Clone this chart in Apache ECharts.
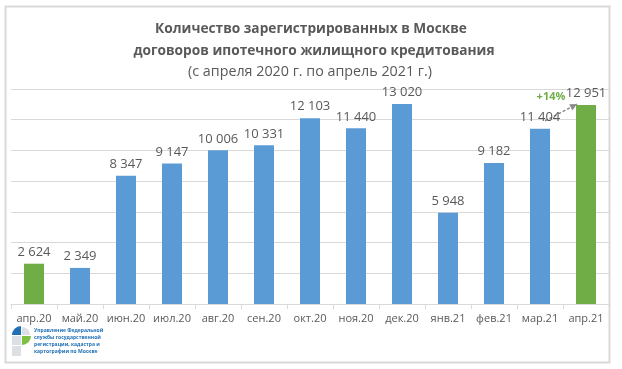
<!DOCTYPE html>
<html><head><meta charset="utf-8">
<script src="https://cdn.jsdelivr.net/npm/echarts@6/dist/echarts.min.js"></script>
<style>html,body{margin:0;padding:0;background:#fff}#c{width:622px;height:369px}</style>
</head><body><div id="c"></div>
<script>
const categories = ['апр.20','май.20','июн.20','июл.20','авг.20','сен.20','окт.20','ноя.20','дек.20','янв.21','фев.21','мар.21','апр.21'];
const values = [2624, 2349, 8347, 9147, 10006, 10331, 12103, 11440, 13020, 5948, 9182, 11404, 12951];
const highlighted = [0, 12];
const titleLines = ['Количество зарегистрированных в Москве', 'договоров ипотечного жилищного кредитования'];
const subtitle = '(с апреля 2020 г. по апрель 2021 г.)';
const changeLabel = '+14%';
const logoLines = ['Управление Федеральной', 'службы государственной', 'регистрации, кадастра и', 'картографии по Москве'];

const FONT = '"Open Sans", sans-serif';
const BLUE = '#5b9bd5', GREEN = '#70ad47', GRAY = '#595959';
const chart = echarts.init(document.getElementById('c'));
const fmt = v => String(v).replace(/\B(?=(\d{3})+(?!\d))/g, ' ');

chart.setOption({
  animation: false,
  textStyle: {fontFamily: FONT},
  grid: {left: 11, right: 13, top: 89, bottom: 65, containLabel: false},
  xAxis: {
    type: 'category', data: categories,
    axisLine: {lineStyle: {color: '#d9d9d9', width: 1}},
    axisTick: {show: true, lineStyle: {color: '#d9d9d9'}, length: 5},
    axisLabel: {interval: 0, color: GRAY, fontSize: 11, fontFamily: FONT, margin: 9}
  },
  yAxis: {
    type: 'value', min: 0, max: 14000, interval: 2000,
    axisLabel: {show: false}, axisLine: {show: false}, axisTick: {show: false},
    splitLine: {lineStyle: {color: '#d9d9d9', width: 1}}
  },
  series: [{
    type: 'bar', barWidth: 20,
    data: values.map((v, i) => ({value: v, itemStyle: {color: highlighted.includes(i) ? GREEN : BLUE}})),
    label: {show: true, position: 'top', distance: 5, color: GRAY, fontSize: 13, fontFamily: FONT, formatter: p => fmt(p.value)}
  }]
});

const p1 = chart.convertToPixel({gridIndex: 0}, [11, values[11]]);
const p2 = chart.convertToPixel({gridIndex: 0}, [12, values[12]]);
const a0 = [p1[0] + 5, p1[1] - 8], a1 = [p2[0] - 9, p2[1] - 1];

chart.setOption({
  graphic: [
    {type: 'rect', shape: {x: 5.5, y: 6.5, width: 604, height: 356}, style: {fill: 'none', stroke: '#d9d9d9', lineWidth: 2}, silent: true},
    {type: 'text', x: 311, y: 29, style: {text: titleLines[0], font: 'bold 13.7px ' + FONT, fill: GRAY, textAlign: 'center', textVerticalAlign: 'middle'}},
    {type: 'text', x: 314, y: 51, style: {text: titleLines[1], font: 'bold 13.7px ' + FONT, fill: GRAY, textAlign: 'center', textVerticalAlign: 'middle'}},
    {type: 'text', x: 310, y: 72, style: {text: subtitle, font: '14.3px ' + FONT, fill: GRAY, textAlign: 'center', textVerticalAlign: 'middle'}},
    {type: 'line', shape: {x1: a0[0], y1: a0[1], x2: a1[0], y2: a1[1]}, style: {stroke: '#8c8c8c', lineWidth: 1.5, lineDash: [3, 2]}},
    {type: 'polygon', shape: {points: (function(){
      const ang = Math.atan2(a1[1] - a0[1], a1[0] - a0[0]);
      const L = 7, W = 3.5;
      const bx = a1[0] - L*Math.cos(ang), by = a1[1] - L*Math.sin(ang);
      return [[a1[0], a1[1]], [bx + W*Math.sin(ang), by - W*Math.cos(ang)], [bx - W*Math.sin(ang), by + W*Math.cos(ang)]];
    })()}, style: {fill: '#8c8c8c'}},
    {type: 'text', x: (p1[0] + p2[0]) / 2 - 12, y: p2[1] - 8, style: {text: changeLabel, font: 'bold 11px ' + FONT, fill: GREEN, textAlign: 'center', textVerticalAlign: 'middle'}},
    // logo
    {type: 'sector', shape: {cx: 21, cy: 335, r0: 0, r: 9, startAngle: Math.PI, endAngle: Math.PI * 1.5}, style: {fill: '#1f6fb5'}},
    {type: 'sector', shape: {cx: 22, cy: 335, r0: 0, r: 8, startAngle: Math.PI * 1.5, endAngle: Math.PI * 2}, style: {fill: '#dcdfe3'}},
    {type: 'rect', shape: {x: 12, y: 336, width: 9, height: 9}, style: {fill: '#dcdfe3'}},
    {type: 'sector', shape: {cx: 22, cy: 336, r0: 0, r: 9, startAngle: 0, endAngle: Math.PI * 0.5}, style: {fill: '#7cc142'}},
    {type: 'rect', shape: {x: 12, y: 346, width: 9, height: 10}, style: {fill: '#dcdfe3'}},
    {type: 'text', x: 34, y: 327, style: {text: logoLines.join('\n'), font: 'bold 5px ' + FONT, lineHeight: 7, fill: '#1f6fb5'}}
  ]
});
</script></body></html>
